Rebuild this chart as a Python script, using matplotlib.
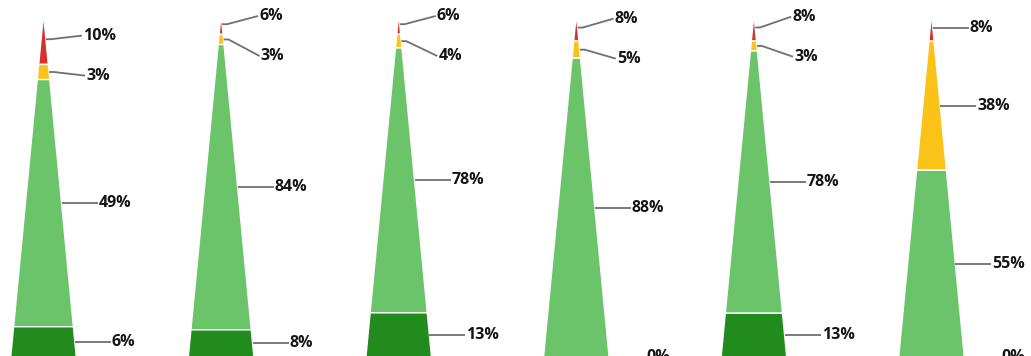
import matplotlib
matplotlib.use("Agg")
import matplotlib.pyplot as plt
from matplotlib.patches import Polygon

# ---- data (top to bottom within each pyramid: red, yellow, light green, dark green)
red_vals = [10, 6, 6, 8, 8, 8]
yellow_vals = [3, 3, 4, 5, 3, 38]
light_green_vals = [49, 84, 78, 88, 78, 55]
dark_green_vals = [6, 8, 13, 0, 13, 0]

colors = {
    "red": "#d8302e",
    "yellow": "#fbc217",
    "light": "#6cc46a",
    "dark": "#218b1e",
}

W, H = 1031, 356
fig = plt.figure(figsize=(W / 100, H / 100), dpi=100)
ax = fig.add_axes([0, 0, 1, 1])
ax.set_xlim(0, W)
ax.set_ylim(H, 0)
ax.axis("off")

apex_y = 14.0
base_y = 357.0
half_base = 32.8
first_cx = 43.5
spacing = 177.6
line_len = 36.0
min_gap = 40.0
top_bound = 16.0


def hw(y):
    return half_base * (y - apex_y) / (base_y - apex_y)


def spread(mids):
    # cluster-based label de-overlap: each cluster is centred on the mean of
    # its members' natural positions, with min_gap spacing.
    clusters = [[i] for i in range(len(mids))]

    def place(cl):
        n = len(cl)
        mean = sum(mids[j] for j in cl) / n
        start = mean - (n - 1) * min_gap / 2
        if cl[0] == 0 and start < top_bound:
            start = top_bound
        return start

    while True:
        merged = False
        starts = [place(c) for c in clusters]
        for k in range(len(clusters) - 1):
            end_k = starts[k] + (len(clusters[k]) - 1) * min_gap
            if starts[k + 1] - end_k < min_gap - 1e-6:
                clusters[k] = clusters[k] + clusters[k + 1]
                del clusters[k + 1]
                merged = True
                break
        if not merged:
            break
    ys = [0.0] * len(mids)
    for c in clusters:
        s = place(c)
        for n, j in enumerate(c):
            ys[j] = s + n * min_gap
    return ys


for i in range(len(red_vals)):
    cx = first_cx + i * spacing
    vals = [red_vals[i], yellow_vals[i], light_green_vals[i], dark_green_vals[i]]
    cols = [colors["red"], colors["yellow"], colors["light"], colors["dark"]]
    total = float(sum(vals))
    y = apex_y
    mids, edges = [], []
    for v, c in zip(vals, cols):
        h = (base_y - apex_y) * v / total
        y0, y1 = y, y + h
        if v > 0:
            poly = Polygon(
                [(cx - hw(y1), y1), (cx + hw(y1), y1),
                 (cx + hw(y0), y0), (cx - hw(y0), y0)],
                closed=True, facecolor=c, edgecolor="white", linewidth=1.0,
                joinstyle="miter")
            ax.add_patch(poly)
        ym = (y0 + y1) / 2
        mids.append(ym)
        edges.append(cx + hw(ym))
        y = y1
    label_ys = spread(mids)
    for v, ym, ex, ly in zip(vals, mids, edges, label_ys):
        end_x = ex + line_len
        if abs(ly - ym) < 0.5:
            ax.plot([ex, end_x], [ym, ym], color="#707070", lw=1.3,
                    solid_capstyle="butt")
        else:
            ax.plot([ex, ex + 5, end_x], [ym, ym, ly], color="#707070", lw=1.3,
                    solid_capstyle="butt")
        ax.text(end_x + 1, ly, f"{v}%", ha="left", va="center",
                fontsize=11.5, fontweight="bold", family="Open Sans",
                color="#151515")

fig.savefig("out.png", dpi=100)
